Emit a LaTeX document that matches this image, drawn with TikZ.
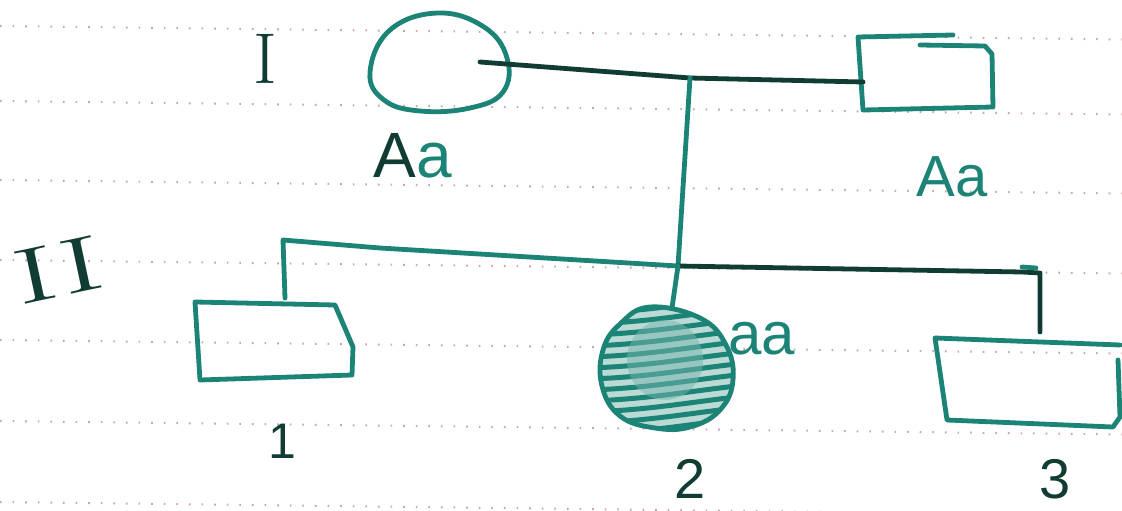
\documentclass[tikz,border=0pt]{standalone}
\usepackage{fontspec}
\setmainfont{Liberation Sans}
\newfontfamily\romfont{Latin Modern Roman}
\definecolor{pen}{RGB}{28,132,118}
\definecolor{darkpen}{RGB}{16,60,52}
\definecolor{ruleline}{RGB}{205,165,165}
\tikzset{
  ink/.style={draw=pen, line width=4.8pt, line cap=round, line join=round},
  darkink/.style={draw=darkpen, line width=4.8pt, line cap=round, line join=round},
  ruled/.style={draw=ruleline, line width=2pt, dash pattern=on 1.6pt off 11pt},
  lbl/.style={text=pen, inner sep=0pt, anchor=base},
}
\begin{document}
\begin{tikzpicture}[x=1pt,y=-1pt]
\useasboundingbox (0,0) rectangle (1122,511);
\fill[white] (0,0) rectangle (1122,511);
% ruled paper
\foreach \yy in {26,101,180,260,340,421,502}{
  \draw[ruled] (0,\yy) -- (1122,\yy+13.5);
}
% generation labels
\node[lbl, text=darkpen] (genI) at (265,84) {\romfont\fontsize{72}{72}\selectfont I};
\node[lbl, text=darkpen, rotate=12, xscale=1.7] (genII) at (64,296) {\romfont\fontsize{78}{78}\selectfont II};
% generation I: mother (circle)
\draw[ink] plot[smooth cycle, tension=0.7] coordinates {(370,72) (390,30) (438,13) (484,27) (507,58) (503,92) (470,108) (420,111) (384,100)};
\coordinate (mom) at (480,62);
% generation I: father (square)
\draw[ink] (953,35) -- (858,37) -- (863,110) -- (993,107) -- (992,54) -- (985,46) -- (920,45);
\coordinate (dad) at (863,82);
% marriage line and descent line
\coordinate (mar) at (690,78);
\draw[darkink] (mom) -- (mar) -- (dad);
\coordinate (sib) at (678,266);
\draw[ink] (mar) -- (sib);
% sibship line
\coordinate (s1) at (283,240);
\coordinate (s3) at (1040,273);
\draw[ink] (sib) -- (380,248) -- (s1) -- (285,298);
\draw[darkink] (sib) -- (1022,272) -- (s3) -- (1040,332);
\draw[ink] (1022,267) -- (1036,268);
% child 1 (square)
\draw[ink] (195,302) -- (335,305) -- (353,347) -- (352,375) -- (200,380) -- cycle;
% child 2 (affected, filled circle)
\draw[ink] (sib) -- (672,308);
\begin{scope}
\clip plot[smooth cycle, tension=0.7] coordinates {(650,307) (700,318) (726,345) (733,380) (720,410) (690,427) (655,428) (620,416) (602,386) (603,350) (620,324)};
\fill[pen!30] (590,295) rectangle (745,440);
\foreach \hy in {302,313,...,458}{
  \draw[pen, line width=5pt] (590,\hy) .. controls (650,\hy-2) and (690,\hy-10) .. (745,\hy-16);
}
\fill[pen!60, opacity=0.5] (665,360) ellipse (38 and 40);
\end{scope}
\draw[ink] plot[smooth cycle, tension=0.7] coordinates {(650,307) (700,318) (726,345) (733,380) (720,410) (690,427) (655,428) (620,416) (602,386) (603,350) (620,324)};
% child 3 (square)
\draw[ink] (1120,345) -- (935,338) -- (947,420) -- (1113,427) -- (1120,417) -- (1118,360);
% genotype labels
\node[lbl] (gmom) at (413,177) {\fontsize{64}{64}\selectfont {\color{darkpen}A}a};
\node[lbl] (gdad) at (952,196) {\fontsize{58}{58}\selectfont Aa};
\node[lbl] (gc2) at (762,354) {\fontsize{60}{60}\selectfont aa};
% individual numbers
\node[lbl, text=darkpen] (n1) at (282,458) {\fontsize{50}{50}\selectfont 1};
\node[lbl, text=darkpen] (n2) at (690,498) {\fontsize{56}{56}\selectfont 2};
\node[lbl, text=darkpen] (n3) at (1055,498) {\fontsize{56}{56}\selectfont 3};
\end{tikzpicture}
\end{document}
